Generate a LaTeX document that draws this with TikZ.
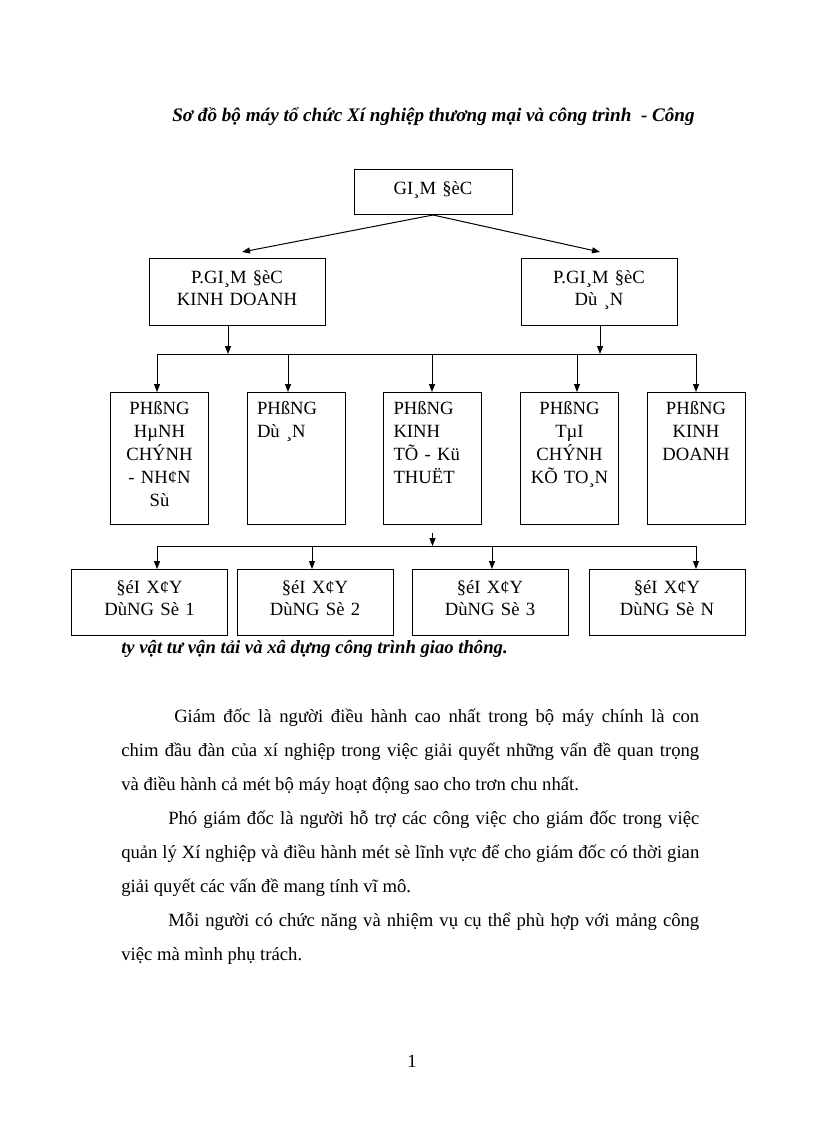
\documentclass[tikz,border=0pt]{standalone}
\usepackage{fontspec}
\setmainfont{Liberation Serif}
\usetikzlibrary{arrows.meta}

\begin{document}
\begin{tikzpicture}[x=0.75pt, y=-0.75pt,
  box/.style={draw, line width=0.75pt, inner sep=0pt, anchor=north, align=center},
  lead/.style={box, text height=18.75pt, text depth=31.5pt,
    font=\fontsize{14pt}{16.5pt}\selectfont},
  dept/.style={box, inner xsep=7.5pt, text width=58.5pt, text height=16.5pt,
    text depth=82.5pt, font=\fontsize{14pt}{17.25pt}\selectfont},
  crew/.style={box, text width=117pt, text height=18pt, text depth=31.5pt,
    font=\fontsize{14pt}{16.5pt}\selectfont},
  arr/.style={line width=0.75pt, -{Triangle[length=6pt,width=4.5pt]}},
  bus/.style={line width=0.75pt}]
 \fill[white] (0,0) rectangle (816,1123);
 \useasboundingbox (0,0) rectangle (816,1123);

 \node[anchor=base west, inner sep=0pt, font=\fontsize{14.35pt}{17pt}\selectfont\bfseries\itshape]
   (title) at (172,122) {Sơ đồ bộ máy tổ chức Xí nghiệp thương mại và công trình~ - Công};

 \node[box, text width=118.5pt, text height=18.75pt, text depth=15pt,
   font=\fontsize{14pt}{16.5pt}\selectfont] (gd) at (433,169) {GI¸M §èC};
 \node[lead, text width=132pt] (pkd) at (237,258) {P.GI¸M §èC\\KINH DOANH};
 \node[lead, text width=117pt] (pda) at (599,258) {P.GI¸M §èC\\Dù ¸N};

 \coordinate (kdtip) at (242,252);
 \coordinate (datip) at (600,252);
 \draw[arr] (gd.south) -- (kdtip);
 \draw[arr] (gd.south) -- (datip);

 \node[dept] (ph1) at (159.5,392) {PHßNG\\HµNH\\CHÝNH\\- NH¢N\\Sù};
 \node[dept, align=left] (ph2) at (296,392) {PHßNG\\Dù ¸N};
 \node[dept, align=left] (ph3) at (432.5,392) {PHßNG\\KINH\\TÕ - Kü\\THUËT};
 \node[dept] (ph4) at (569.5,392) {PHßNG\\TµI\\CHÝNH\\KÕ TO¸N};
 \node[dept] (ph5) at (696,392) {PHßNG\\KINH\\DOANH};

 \coordinate (busAl) at (157,354);
 \coordinate (busAr) at (696,354);
 \coordinate (kdin) at (228,354);
 \coordinate (dain) at (600,354);
 \draw[bus] (busAl) -- (busAr);
 \draw[arr] (pkd.south -| kdin) -- (kdin);
 \draw[arr] (pda.south -| dain) -- (dain);
 \foreach \n/\x in {ph1/157, ph2/288, ph3/432, ph4/577, ph5/696} {
   \coordinate (a\n) at (\x,354);
   \draw[arr] (a\n) -- (a\n |- \n.north);
 }

 \node[crew] (d1) at (149.5,569) {§éI X¢Y\\DùNG Sè 1};
 \node[crew] (d2) at (315,569) {§éI X¢Y\\DùNG Sè 2};
 \node[crew] (d3) at (490,569) {§éI X¢Y\\DùNG Sè 3};
 \node[crew] (d4) at (667,569) {§éI X¢Y\\DùNG Sè N};

 \coordinate (busBl) at (157,546);
 \coordinate (busBr) at (696,546);
 \draw[bus] (busBl) -- (busBr);
 \draw[arr, shorten <=6pt] (ph3.south) -- (ph3.south |- busBl);
 \foreach \n/\x in {d1/157, d2/312, d3/492, d4/696} {
   \coordinate (b\n) at (\x,546);
   \draw[arr] (b\n) -- (b\n |- \n.north);
 }

 \node[anchor=base west, inner sep=0pt, font=\fontsize{14pt}{17pt}\selectfont\bfseries\itshape]
   (cap) at (121,653) {ty vật tư vận tải và xâ dựng công trình giao thông.};

 \node[anchor=base west, inner sep=0pt, text width=433.5pt, align=justify,
   font=\fontsize{14pt}{25.6pt}\selectfont] (body) at (121,722)
   {\hspace*{39.75pt}Giám đốc là người điều hành cao nhất trong bộ máy chính là con\linebreak
    chim đầu đàn của xí nghiệp trong việc giải quyết những vấn đề quan trọng\linebreak
    và điều hành cả mét bộ máy hoạt động sao cho trơn chu nhất.\par
    \hspace*{35.25pt}Phó giám đốc là người hỗ trợ các công việc cho giám đốc trong việc\linebreak
    quản lý Xí nghiệp và điều hành mét sè lĩnh vực để cho giám đốc có thời gian\linebreak
    giải quyết các vấn đề mang tính vĩ mô.\par
    \hspace*{35.25pt}Mỗi người có chức năng và nhiệm vụ cụ thể phù hợp với mảng công\linebreak
    việc mà mình phụ trách.};

 \node[anchor=base, inner sep=0pt, font=\fontsize{14pt}{17pt}\selectfont] (pg) at (412,1067) {1};
\end{tikzpicture}
\end{document}
